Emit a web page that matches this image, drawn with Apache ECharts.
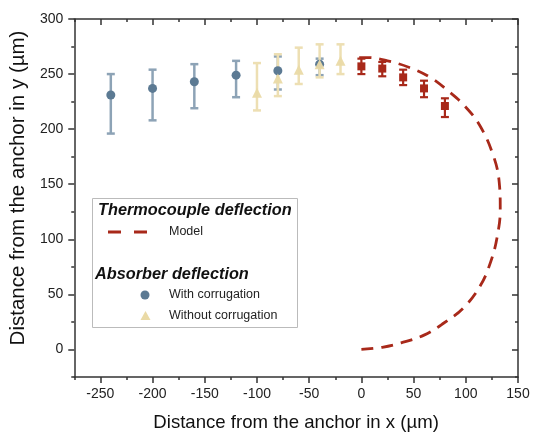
<!DOCTYPE html>
<html>
<head>
<meta charset="utf-8">
<script src="https://cdn.jsdelivr.net/npm/echarts@6/dist/echarts.min.js"></script>
<style>
  html, body { margin: 0; padding: 0; background: #fff; }
  #chart { width: 533px; height: 437px; }
</style>
</head>
<body>
<div id="chart"></div>
<script>
// absorber, with corrugation
const withX = [-240, -200, -160, -120, -80, -40];
const withY = [231, 237, 243, 249, 253, 259];
const withLow = [196, 208, 219, 229, 236, 249];
const withHigh = [250, 254, 259, 262, 266, 264];

// absorber, without corrugation
const withoutX = [-100, -80, -60, -40, -20];
const withoutY = [233, 246, 254, 259, 262];
const withoutLow = [217, 230, 241, 247, 250];
const withoutHigh = [260, 268, 274, 277, 277];

// thermocouple measurements
const tcX = [0, 20, 40, 60, 80];
const tcY = [257, 255, 247, 237, 221];
const tcLow = [250, 248, 240, 229, 211];
const tcHigh = [264, 261, 254, 244, 228];

// model curve
const modelX = [0, 20, 38, 60, 79, 98, 114, 124, 130, 133, 132, 126, 113, 98, 84, 66, 46, 25, 6, -4];
const modelY = [0, 2, 6, 13, 24, 38, 58, 80, 102, 127, 152, 177, 204, 222, 234, 247, 256, 262, 265, 265];

// ticks
const xMajor = [-250, -200, -150, -100, -50, 0, 50, 100, 150];
const xMinor = [-275, -225, -175, -125, -75, -25, 25, 75, 125];
const yMajor = [0, 50, 100, 150, 200, 250, 300];
const yMinor = [-25, 25, 75, 125, 175, 225, 275];

const BLUE = '#5c7a93', BLUE_BAR = '#8da3b6';
const YEL = '#eadaa6', YEL_BAR = '#eddfb3';
const RED = '#a8291a';
const AXIS = '#333';
const FONT = '"Liberation Sans", Arial, sans-serif';

const myChart = echarts.init(document.getElementById('chart'));

const zip = (xs, ys) => xs.map((x, i) => [x, ys[i]]);
const zip3 = (xs, lo, hi) => xs.map((x, i) => [x, lo[i], hi[i]]);

function errorBar(color, width) {
  return function (params, api) {
    const x = api.value(0);
    const top = api.coord([x, api.value(2)]);
    const bot = api.coord([x, api.value(1)]);
    const hw = 4;
    const st = { stroke: color, lineWidth: width };
    return {
      type: 'group',
      children: [
        { type: 'line', shape: { x1: top[0], y1: top[1], x2: bot[0], y2: bot[1] }, style: st },
        { type: 'line', shape: { x1: top[0] - hw, y1: top[1], x2: top[0] + hw, y2: top[1] }, style: st },
        { type: 'line', shape: { x1: bot[0] - hw, y1: bot[1], x2: bot[0] + hw, y2: bot[1] }, style: st }
      ]
    };
  };
}

function xAx(pos, ticks, len, inside, withLabels, showLine) {
  return {
    type: 'value', position: pos, min: -275, max: 150,
    axisLine: { show: showLine, onZero: false, lineStyle: { color: AXIS, width: 1.5 } },
    axisTick: { show: true, customValues: ticks, length: len, inside: inside, lineStyle: { color: AXIS, width: 1.5 } },
    axisLabel: withLabels
      ? { show: true, customValues: ticks, margin: 10, fontSize: 14, color: '#222', fontFamily: FONT }
      : { show: false },
    splitLine: { show: false }
  };
}

function yAx(pos, ticks, len, inside, withLabels, showLine) {
  return {
    type: 'value', position: pos, min: -25, max: 300,
    axisLine: { show: showLine, onZero: false, lineStyle: { color: AXIS, width: 1.5 } },
    axisTick: { show: true, customValues: ticks, length: len, inside: inside, lineStyle: { color: AXIS, width: 1.5 } },
    axisLabel: withLabels
      ? { show: true, customValues: ticks, margin: 11, fontSize: 14, color: '#222', fontFamily: FONT }
      : { show: false },
    splitLine: { show: false }
  };
}

const xAxes = [
  xAx('bottom', xMajor, 6, false, true, true),
  xAx('bottom', xMinor, 3, false, false, false),
  xAx('top', xMajor, 6, true, false, true),
  xAx('top', xMinor, 3, true, false, false)
];
xAxes[0].name = 'Distance from the anchor in x (µm)';
xAxes[0].nameLocation = 'middle';
xAxes[0].nameGap = 36;
xAxes[0].nameTextStyle = { fontSize: 18.6, color: '#111', fontFamily: FONT };

const yAxes = [
  yAx('left', yMajor, 6, false, true, true),
  yAx('left', yMinor, 3, false, false, false),
  yAx('right', yMajor, 6, true, false, true),
  yAx('right', yMinor, 3, true, false, false)
];
yAxes[0].name = 'Distance from the anchor in y (µm)';
yAxes[0].nameLocation = 'middle';
yAxes[0].nameGap = 40;
yAxes[0].nameTextStyle = { fontSize: 20.5, color: '#111', fontFamily: FONT, padding: [0, 0, 0, 20] };

const legendText = { fontSize: 12.5, fill: '#222', fontFamily: FONT, verticalAlign: 'middle' };
const headText = { fontSize: 16.3, fontWeight: 'bold', fontStyle: 'italic', fill: '#111', fontFamily: FONT, verticalAlign: 'middle' };

const option = {
  backgroundColor: '#fff',
  animation: false,
  grid: { left: 72, right: 15, top: 19, bottom: 56 },
  xAxis: xAxes,
  yAxis: yAxes,
  series: [
    {
      name: 'With corrugation bars', type: 'custom', renderItem: errorBar(BLUE_BAR, 2.5),
      encode: { x: 0, y: [1, 2] }, data: zip3(withX, withLow, withHigh)
    },
    {
      name: 'With corrugation', type: 'scatter', symbol: 'circle', symbolSize: 9,
      itemStyle: { color: BLUE, opacity: 1 }, data: zip(withX, withY)
    },
    {
      name: 'Without corrugation bars', type: 'custom', renderItem: errorBar(YEL_BAR, 2.5),
      encode: { x: 0, y: [1, 2] }, data: zip3(withoutX, withoutLow, withoutHigh)
    },
    {
      name: 'Without corrugation', type: 'scatter', symbol: 'triangle', symbolSize: 10,
      itemStyle: { color: YEL, opacity: 0.95 }, data: zip(withoutX, withoutY)
    },
    {
      name: 'Thermocouple bars', type: 'custom', renderItem: errorBar(RED, 2.2),
      encode: { x: 0, y: [1, 2] }, data: zip3(tcX, tcLow, tcHigh)
    },
    {
      name: 'Thermocouple', type: 'scatter', symbol: 'rect', symbolSize: 8,
      itemStyle: { color: RED, opacity: 1 }, data: zip(tcX, tcY)
    },
    {
      name: 'Model', type: 'line', smooth: 0.4, symbol: 'none',
      lineStyle: { color: RED, width: 2.8, type: [12, 8] },
      data: zip(modelX, modelY)
    }
  ],
  graphic: [
    { type: 'rect', left: 92, top: 198, shape: { width: 205, height: 129 },
      style: { fill: '#fff', stroke: '#bbb', lineWidth: 1 }, z: 10 },
    { type: 'text', x: 98, y: 211, style: Object.assign({ text: 'Thermocouple deflection' }, headText), z: 11 },
    { type: 'line', shape: { x1: 108, y1: 232, x2: 148, y2: 232 },
      style: { stroke: RED, lineWidth: 3, lineDash: [13, 13] }, z: 11 },
    { type: 'text', x: 169, y: 232, style: Object.assign({ text: 'Model' }, legendText), z: 11 },
    { type: 'text', x: 95, y: 275, style: Object.assign({ text: 'Absorber deflection' }, headText), z: 11 },
    { type: 'circle', shape: { cx: 145, cy: 295, r: 4.5 }, style: { fill: BLUE }, z: 11 },
    { type: 'text', x: 169, y: 295, style: Object.assign({ text: 'With corrugation' }, legendText), z: 11 },
    { type: 'polygon', shape: { points: [[145.5, 311], [150.5, 320], [140.5, 320]] }, style: { fill: YEL }, z: 11 },
    { type: 'text', x: 169, y: 316, style: Object.assign({ text: 'Without corrugation' }, legendText), z: 11 }
  ]
};

myChart.setOption(option);
</script>
</body>
</html>
